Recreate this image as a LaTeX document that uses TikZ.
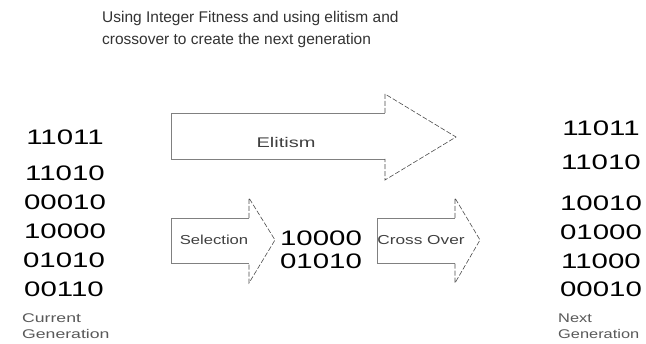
\documentclass[tikz,border=0pt]{standalone}
\usepackage{fontspec}
\setmainfont{Liberation Sans}
\usepackage{graphicx}
\newcommand{\hx}[2]{\scalebox{#1}[1]{#2}}
\tikzset{
  bits/.style={font=\fontsize{21}{21}\selectfont, text=black, inner sep=0},
  capt/.style={font=\fontsize{12.6}{16}\selectfont, text=black!65, inner sep=0, anchor=west},
  ttl/.style={font=\fontsize{15.5}{22}\selectfont, text=black!80, inner sep=0, anchor=base west},
  bodyedge/.style={draw=black!50, line width=0.6pt},
  headedge/.style={draw=black!70, line width=0.6pt, dash pattern=on 5pt off 2pt},
  arrowlabel/.style={text=black!75, inner sep=0},
}
\begin{document}
\begin{tikzpicture}[x=1pt,y=-1pt]
\path[use as bounding box, fill=white] (0,0) rectangle (646,344);

% title
\node[ttl] (title1) at (102,23) {Using Integer Fitness and using elitism and};
\node[ttl] (title2) at (102,45) {crossover to create the next generation};

% current generation
\node[bits] (c1) at (65,137) {\hx{1.4}{11011}};
\node[bits] (c2) at (65,173) {\hx{1.4}{11010}};
\node[bits] (c3) at (65,202) {\hx{1.4}{00010}};
\node[bits] (c4) at (65,231) {\hx{1.4}{10000}};
\node[bits] (c5) at (64,260) {\hx{1.4}{01010}};
\node[bits] (c6) at (64,289) {\hx{1.4}{00110}};
\node[capt] (cur1) at (22,318) {\hx{1.4}{Current}};
\node[capt] (cur2) at (22,334) {\hx{1.4}{Generation}};

% next generation
\node[bits] (n1) at (601,128) {\hx{1.4}{11011}};
\node[bits] (n2) at (601,162) {\hx{1.4}{11010}};
\node[bits] (n3) at (601,203) {\hx{1.4}{10010}};
\node[bits] (n4) at (601,232) {\hx{1.4}{01000}};
\node[bits] (n5) at (601,261) {\hx{1.4}{11000}};
\node[bits] (n6) at (601,289) {\hx{1.4}{00010}};
\node[capt] (nx1) at (558,318) {\hx{1.3}{Next}};
\node[capt] (nx2) at (558,334) {\hx{1.3}{Generation}};

% selected pair
\node[bits] (s1) at (321,238) {\hx{1.4}{10000}};
\node[bits] (s2) at (321,261) {\hx{1.4}{01010}};

% Elitism block arrow
\draw[bodyedge] (385,113) -- (171,113) -- (171,159) -- (385,159);
\draw[headedge] (385,113) -- (385,94) -- (456,137) -- (385,180) -- (385,159);
\node[arrowlabel, font=\fontsize{14}{14}\selectfont] (elit) at (286,142) {\hx{1.43}{Elitism}};

% Selection block arrow
\draw[bodyedge] (249,218) -- (171,218) -- (171,263) -- (249,263);
\draw[headedge] (249,218) -- (249,198) -- (275,240) -- (249,283) -- (249,263);
\node[arrowlabel, font=\fontsize{13}{13}\selectfont] (sel) at (214,240) {\hx{1.28}{Selection}};

% Cross Over block arrow
\draw[bodyedge] (455,218) -- (377,218) -- (377,263) -- (455,263);
\draw[headedge] (455,218) -- (455,198) -- (480,240) -- (455,283) -- (455,263);
\node[arrowlabel, font=\fontsize{13}{13}\selectfont] (xo) at (421,240) {\hx{1.33}{Cross Over}};
\end{tikzpicture}
\end{document}
